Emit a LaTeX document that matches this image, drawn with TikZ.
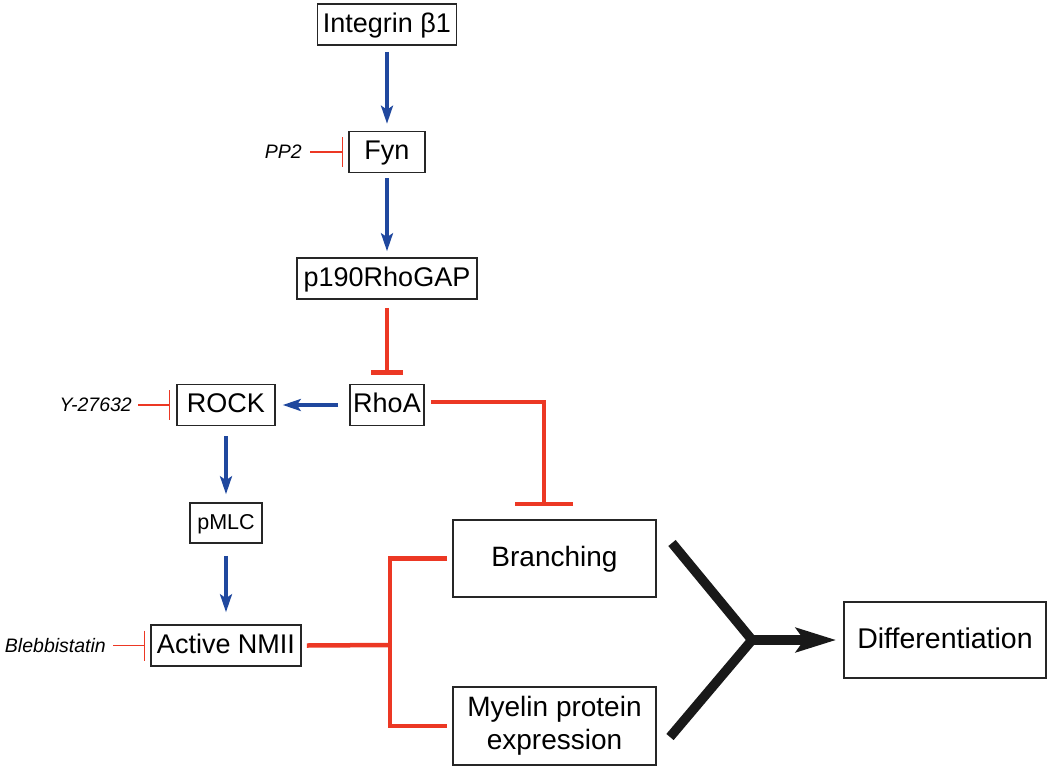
\documentclass[tikz,border=0pt]{standalone}
\usepackage{fontspec}
\setmainfont{Liberation Sans}
\usetikzlibrary{arrows.meta}
\definecolor{arrblue}{RGB}{32,72,158}
\definecolor{inhred}{RGB}{236,56,36}
\begin{document}
\begin{tikzpicture}[x=1pt,y=-1pt,
  box/.style={draw=black!85, line width=1.6pt, inner sep=0pt, align=center},
  onel/.style={text height=19.8pt, text depth=4pt},
  f27/.style={font=\fontsize{27}{33}\selectfont},
  lbl/.style={inner sep=0pt, anchor=east, font=\fontsize{19.5}{23}\selectfont\itshape},
  act/.style={draw=arrblue, line width=3.2pt, -{Stealth[length=18pt,width=12pt,inset=4pt]}},
  inhthin/.style={draw=inhred, line width=1.5pt, -{Bar[width=30pt]}},
  inhthick/.style={draw=inhred, line width=4.5pt, line join=miter},
  big/.style={draw=black!90, line width=9.5pt}
]
\useasboundingbox (0,0) rectangle (1050,769);

% nodes
\node[box,onel,f27,minimum width=139pt,minimum height=41pt] (integrin) at (387,24.5) {Integrin β1};
\node[box,onel,f27,minimum width=76pt,minimum height=41pt] (fyn) at (387,152) {Fyn};
\node[box,onel,f27,minimum width=180pt,minimum height=41pt] (p190) at (387,278.5) {p190RhoGAP};
\node[box,onel,f27,minimum width=74pt,minimum height=41pt] (rhoa) at (387,405) {RhoA};
\node[box,onel,f27,minimum width=98pt,minimum height=41pt] (rock) at (226,405) {ROCK};
\node[box,text height=15.6pt,text depth=3pt,font=\fontsize{21.5}{26}\selectfont,minimum width=72pt,minimum height=40pt] (pmlc) at (226,523) {pMLC};
\node[box,onel,f27,minimum width=150pt,minimum height=41pt] (nmii) at (226,645.5) {Active NMII};
\node[box,onel,font=\fontsize{28}{33}\selectfont,minimum width=203pt,minimum height=77pt] (branching) at (554.5,558.5) {Branching};
\node[box,font=\fontsize{28}{33}\selectfont,minimum width=203pt,minimum height=78pt] (myelin) at (554.5,726) {Myelin protein\\expression};
\node[box,text height=20.5pt,text depth=4pt,font=\fontsize{28.5}{33}\selectfont,minimum width=202pt,minimum height=76pt] (diff) at (945,640) {Differentiation};

% inhibitor labels
\node[lbl] (pp2) at (302,152) {PP2};
\node[lbl] (y27) at (132,405) {Y-27632};
\node[lbl] (blebb) at (106,645.5) {Blebbistatin};

% blue activation arrows
\draw[act, shorten <=6pt, shorten >=7pt] (integrin) -- (fyn);
\draw[act, shorten <=5pt, shorten >=6pt] (fyn) -- (p190);
\draw[act, shorten <=11pt, shorten >=7pt] (rhoa) -- (rock);
\draw[act, shorten <=10pt, shorten >=8pt] (rock) -- (pmlc);
\draw[act, shorten <=12pt, shorten >=12pt] (pmlc) -- (nmii);

% thin inhibitors
\draw[inhthin, shorten <=8pt, shorten >=5pt] (pp2) -- (fyn);
\draw[inhthin, shorten <=6pt, shorten >=6pt] (y27) -- (rock);
\draw[inhthin, shorten <=7pt, shorten >=5pt] (blebb) -- (nmii);

% thick inhibitors
\draw[inhthick, -{Bar[width=32pt]}, shorten <=8pt, shorten >=9pt] (p190) -- (rhoa);
\coordinate (rc) at (544,402);
\draw[inhthick, -{Bar[width=58pt]}, shorten >=13pt] ([shift={(6pt,3pt)}]rhoa.east) -- (rc) -- (rc |- branching.north);

% NMII fork
\coordinate (nj) at (390,645);
\draw[inhthick] ([xshift=5pt]nmii.east) -- (nj);
\draw[inhthick] ([xshift=-5pt]branching.west) -| (nj) |- ([xshift=-5pt]myelin.west);

% black Y to differentiation
\coordinate (ya) at (672,543);
\coordinate (yb) at (670,737);
\coordinate (yj) at (752,640);
\draw[big, line join=miter] (ya) -- (yj) -- (yb);
\draw[big, -{Stealth[length=40pt,width=24pt,inset=8pt]}, shorten >=7pt] (yj) -- (diff.west);
\end{tikzpicture}
\end{document}
